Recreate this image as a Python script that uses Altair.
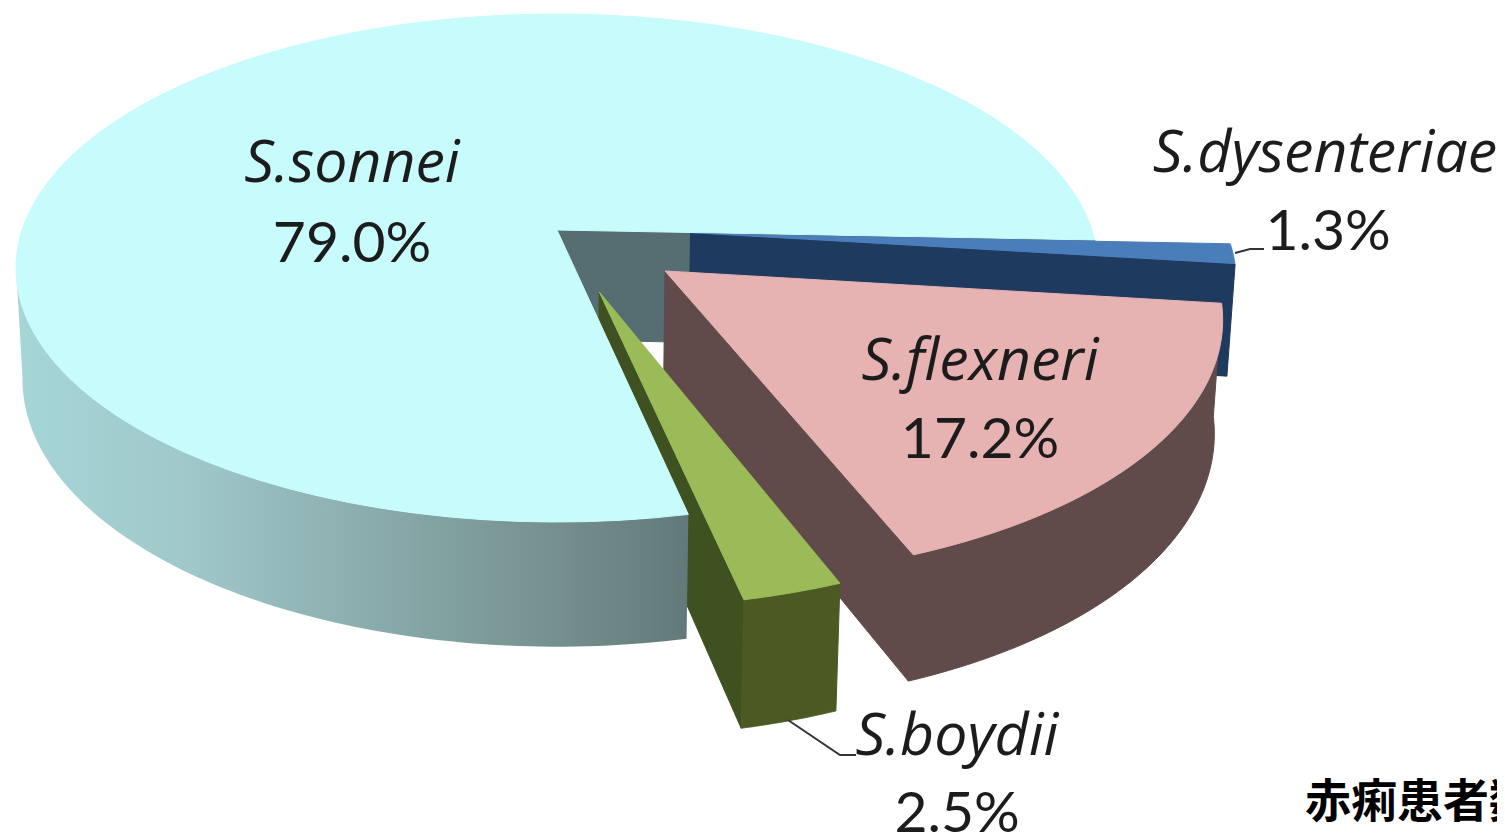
import math
import altair as alt
import pandas as pd

# ---- values ----
names = ["S.sonnei", "S.boydii", "S.flexneri", "S.dysenteriae"]
shares = [79.0, 2.5, 17.2, 1.3]
pct_labels = ["79.0%", "2.5%", "17.2%", "1.3%"]

# ---- styling / layout ----
top_col = ["#c8fbfb", "#9bbb59", "#e6b2b2", "#4a7ebb"]
side_col = [None, "#4a5a22", "#604a4a", "#1f3a5f"]
wall_col = ["#566e72", "#3f5120", "#604a4a", "#1f3a5f"]
explode_u = [0.0, 0.076, 0.197, 0.249]
explode_v = [0.0, -0.240, -0.161, -0.015]
name_x = [352, 957, 980, 1325]
pct_x = [352, 957, 980, 1328]
name_y = [182, 755, 380, 172]
pct_y = [262, 832, 458, 250]
leader_x = [[788, 840, 856], [1235, 1250, 1264]]
leader_y = [[720, 755, 755], [253, 249, 249]]
note_text = "赤痢患者数"
note_x, note_y = 1305, 817

CX, Y0, R, S, K, M, H = 557.0, 230.0, 535.0, 248.3, 0.1497, 0.012, 111.0
START = -2.3
TANGENT = 188.0


def top(u, v):
    w = 1 + K * v
    return CX + R * u / w, Y0 - S * v / w


def bottom(u, v):
    w = 1 + K * v + M
    return CX + R * u / w, Y0 + (H - S * v) / w


def arc(a0, a1, du, dv, proj, n=90):
    out = []
    for i in range(n + 1):
        a = math.radians(a0 + (a1 - a0) * i / n)
        out.append(proj(math.cos(a) + du, math.sin(a) + dv))
    return out


spans = []
acc = START
for s in shares:
    spans.append((acc, acc + s * 3.6))
    acc += s * 3.6


def top_face(k):
    a0, a1 = spans[k]
    du, dv = explode_u[k], explode_v[k]
    return [top(du, dv)] + arc(a0, a1, du, dv, top)


def rim_face(k, a0=None, a1=None):
    b0, b1 = spans[k]
    a0 = b0 if a0 is None else a0
    a1 = b1 if a1 is None else a1
    du, dv = explode_u[k], explode_v[k]
    return arc(a0, a1, du, dv, top) + arc(a1, a0, du, dv, bottom)


def wall(k, a):
    du, dv = explode_u[k], explode_v[k]
    r = math.radians(a)
    c, s = math.cos(r) + du, math.sin(r) + dv
    return [top(du, dv), top(c, s), bottom(c, s), bottom(du, dv)]


def poly(points, fill):
    pts = list(points) + [points[0]]
    df = pd.DataFrame({"x": [p[0] for p in pts], "y": [p[1] for p in pts], "i": range(len(pts))})
    stroke = fill if isinstance(fill, str) else "#8fb8ba"
    kw = dict(stroke=stroke, strokeWidth=1, strokeOpacity=1 if isinstance(fill, str) else 0)
    return alt.Chart(df).mark_line(fill=fill, **kw).encode(x=X, y=Y, order=alt.Order("i:Q"))


X = alt.X("x:Q", scale=alt.Scale(domain=[8, 1497], nice=False, zero=False), axis=None)
Y = alt.Y("y:Q", scale=alt.Scale(domain=[835, 8], nice=False, zero=False), axis=None)

cyan_grad = alt.Gradient(
    gradient="linear", x1=0, x2=1, y1=0, y2=0,
    stops=[
        alt.GradientStop(offset=0.0, color="#a6d6d8"),
        alt.GradientStop(offset=0.25, color="#a0c8ca"),
        alt.GradientStop(offset=0.55, color="#89aaab"),
        alt.GradientStop(offset=0.8, color="#75908f"),
        alt.GradientStop(offset=1.0, color="#62797a"),
    ],
)

layers = [
    poly(wall(0, spans[0][0]), wall_col[0]),
    poly(wall(1, spans[1][0]), wall_col[1]),
    poly(rim_face(0, TANGENT, spans[0][1]), cyan_grad),
    poly(top_face(0), top_col[0]),
    poly(top_face(3), top_col[3]),
    poly(wall(3, spans[3][0]), wall_col[3]),
    poly(rim_face(2), side_col[2]),
    poly(wall(2, spans[2][0]), wall_col[2]),
    poly(top_face(2), top_col[2]),
    poly(rim_face(1), side_col[1]),
    poly(top_face(1), top_col[1]),
]

for lx, ly in zip(leader_x, leader_y):
    d = pd.DataFrame({"x": lx, "y": ly, "i": range(len(lx))})
    layers.append(alt.Chart(d).mark_line(color="#333333", strokeWidth=2).encode(x=X, y=Y, order=alt.Order("i:Q")))

names_df = pd.DataFrame({"x": name_x, "y": name_y, "t": names})
pct_df = pd.DataFrame({"x": pct_x, "y": pct_y, "t": pct_labels})
layers.append(alt.Chart(names_df).mark_text(font="Open Sans", fontSize=59, fontStyle="italic", align="center", baseline="alphabetic", color="#1c1c1c").encode(x=X, y=Y, text="t:N"))
layers.append(alt.Chart(pct_df).mark_text(font="Lato", fontSize=57, align="center", baseline="alphabetic", color="#1c1c1c").encode(x=X, y=Y, text="t:N"))
note_df = pd.DataFrame({"x": [note_x], "y": [note_y], "t": [note_text]})
layers.append(alt.Chart(note_df).mark_text(font="Noto Sans CJK JP", fontSize=46, fontWeight="bold", align="left", baseline="alphabetic", color="#000000").encode(x=X, y=Y, text="t:N"))

chart = alt.layer(*layers).properties(
    width=1489, height=827, padding=0, autosize=alt.AutoSizeParams(type="none")
).configure_view(stroke=None)
chart.save("out.html", embed_options={"renderer": "svg", "actions": False})
